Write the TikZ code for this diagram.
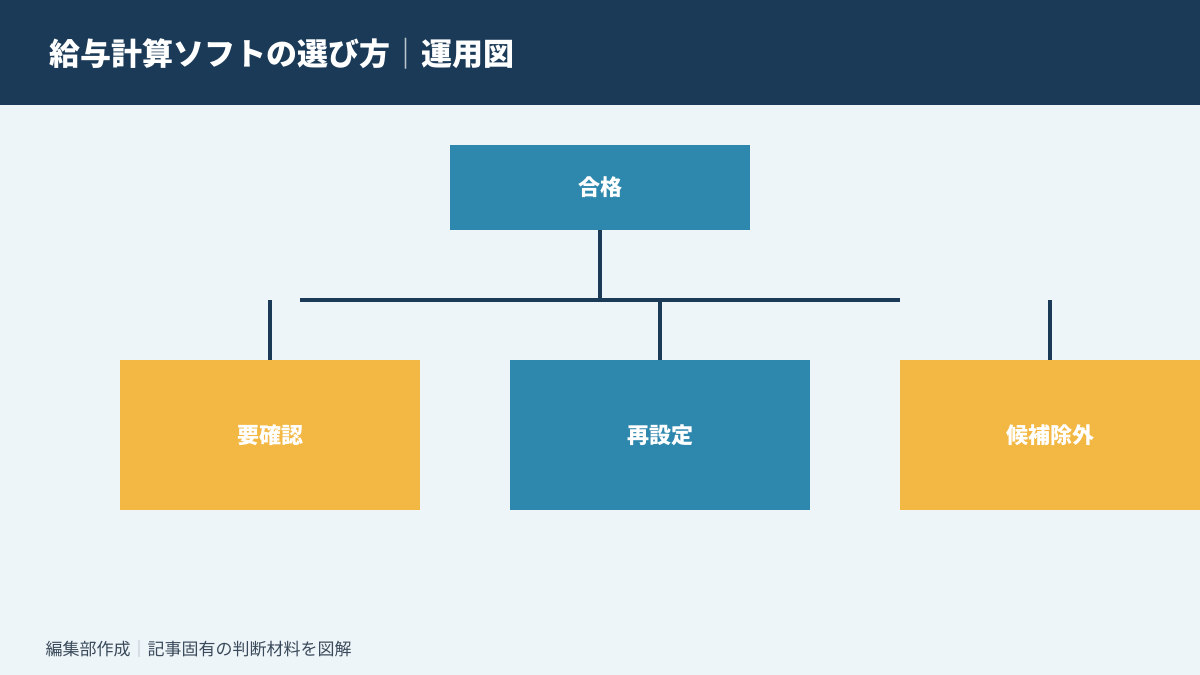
\documentclass[tikz,border=0pt]{standalone}
\usepackage{fontspec}
\newfontfamily\cjk{Noto Sans CJK JP}
\definecolor{navy}{HTML}{1A3A57}
\definecolor{bg}{HTML}{EEF5F9}
\definecolor{blu}{HTML}{2E87AD}
\definecolor{yel}{HTML}{F2B843}
\definecolor{foot}{HTML}{3A4A5A}
\begin{document}
\begin{tikzpicture}[x=1pt,y=-1pt,
  box/.style={draw=none,minimum width=300pt,inner sep=0pt,text=white,font=\cjk\bfseries\fontsize{22}{26}\selectfont},
  conn/.style={draw=navy,line width=4pt}]
\useasboundingbox (0,0) rectangle (1200,675);
\fill[bg] (0,0) rectangle (1200,675);
\fill[navy] (0,0) rectangle (1200,105);
\node[anchor=west,text=white,font=\cjk\bfseries\fontsize{31}{36}\selectfont] (title) at (46,54) {給与計算ソフトの選び方{\color{white!70!navy}｜}運用図};
\node[box,fill=blu,minimum height=85pt] (top) at (600,187.5) {合格};
\node[box,fill=yel,minimum height=150pt] (l) at (270,435) {要確認};
\node[box,fill=blu,minimum height=150pt] (m) at (660,435) {再設定};
\node[box,fill=yel,minimum height=150pt] (r) at (1050,435) {候補除外};
\coordinate (j) at (600,300);
\coordinate (hl) at (300,300);
\coordinate (hr) at (900,300);
\coordinate (sl) at (270,300);
\coordinate (sm) at (660,300);
\coordinate (sr) at (1050,300);
\draw[conn] (top.south) -- (j);
\draw[conn] (hl) -- (hr);
\draw[conn] (sl) -- (l.north);
\draw[conn] (sm) -- (m.north);
\draw[conn] (sr) -- (r.north);
\node[anchor=west,text=foot,font=\cjk\fontsize{17}{20}\selectfont] (foot) at (42,649) {編集部作成{\color{foot!40}｜}記事固有の判断材料を図解};
\end{tikzpicture}
\end{document}
